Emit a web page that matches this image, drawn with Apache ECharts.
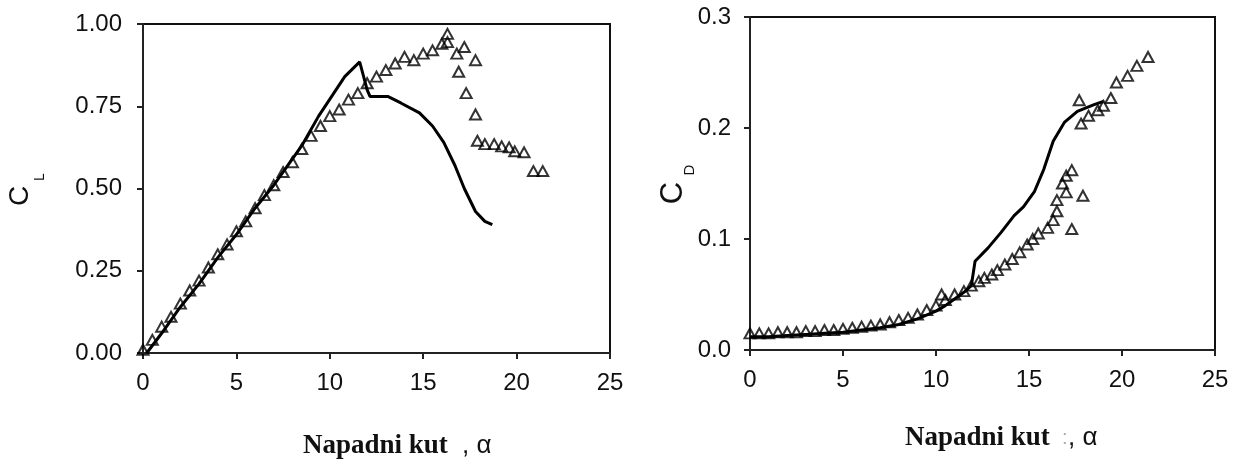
<!DOCTYPE html>
<html>
<head>
<meta charset="utf-8">
<script src="https://cdn.jsdelivr.net/npm/echarts@6/dist/echarts.min.js"></script>
<style>
html,body{margin:0;padding:0;background:#fff;}
#c{width:1243px;height:468px;}
</style>
</head>
<body>
<div id="c"></div>
<script>
// ---- data (angle of attack alpha, coefficient) ----
const alphaTicks = [0, 5, 10, 15, 20, 25];
const clTicks = [0, 0.25, 0.5, 0.75, 1.0];
const cdTicks = [0, 0.1, 0.2, 0.3];

const clExperiment = [
  [0.0,0.01],[0.5,0.04],[1.0,0.08],[1.5,0.11],[2.0,0.15],[2.5,0.19],[3.0,0.22],[3.5,0.26],
  [4.0,0.30],[4.5,0.33],[5.0,0.37],[5.5,0.40],[6.0,0.44],[6.5,0.48],[7.0,0.51],[7.5,0.55],
  [8.0,0.58],[8.5,0.62],[9.0,0.66],[9.5,0.69],[10.0,0.72],[10.5,0.74],[11.0,0.77],[11.5,0.79],
  [12.0,0.82],[12.5,0.84],[13.0,0.86],[13.5,0.88],[14.0,0.90],[14.5,0.89],[15.0,0.91],[15.5,0.92],
  [16.0,0.94],[16.3,0.97],[16.3,0.945],[16.8,0.91],[17.2,0.93],[17.8,0.89],[16.9,0.855],[17.3,0.79],
  [17.8,0.725],[17.9,0.645],[18.3,0.635],[18.8,0.635],[19.2,0.628],[19.6,0.625],[19.9,0.613],
  [20.4,0.61],[20.9,0.553],[21.4,0.553]
];
const clComputed = [
  [0.2,0.0],[1,0.06],[2,0.14],[3,0.21],[4,0.29],[5,0.36],[6,0.44],[7,0.51],[8,0.59],[8.5,0.63],
  [9.4,0.72],[10.1,0.78],[10.8,0.84],[11.6,0.885],[12.0,0.80],[12.15,0.78],[13.1,0.78],[13.8,0.76],
  [14.8,0.73],[15.5,0.69],[16.1,0.64],[16.7,0.57],[17.2,0.50],[17.8,0.43],[18.3,0.40],[18.7,0.39]
];
const cdExperiment = [
  [0.0,0.015],[0.5,0.015],[1.0,0.015],[1.5,0.016],[2.0,0.016],[2.5,0.016],[3.0,0.017],[3.5,0.017],
  [4.0,0.018],[4.5,0.018],[5.0,0.019],[5.5,0.020],[6.0,0.021],[6.5,0.022],[7.0,0.023],[7.5,0.025],
  [8.0,0.027],[8.5,0.029],[9.0,0.032],[9.5,0.036],[10.0,0.040],[10.3,0.050],[10.5,0.045],[11.0,0.050],
  [11.5,0.053],[11.9,0.058],[12.3,0.062],[12.6,0.065],[13.0,0.068],[13.3,0.072],[13.7,0.077],[14.1,0.082],
  [14.5,0.088],[14.9,0.095],[15.2,0.100],[15.5,0.105],[16.0,0.110],[16.3,0.117],[16.5,0.125],[16.5,0.135],
  [16.8,0.150],[17.0,0.157],[17.3,0.162],[17.0,0.142],[17.9,0.139],[17.3,0.109],[17.7,0.225],[17.8,0.204],
  [18.2,0.211],[18.7,0.216],[19.0,0.220],[19.4,0.227],[19.7,0.241],[20.3,0.247],[20.8,0.256],[21.4,0.264]
];
const cdComputed = [
  [0,0.012],[1,0.012],[2,0.013],[3,0.014],[4,0.015],[5,0.016],[6,0.018],[7,0.020],[8,0.023],
  [9,0.028],[10,0.035],[10.5,0.040],[11,0.046],[11.5,0.052],[11.9,0.058],[12.1,0.080],[12.8,0.092],
  [13.5,0.106],[14.2,0.121],[14.7,0.129],[15.3,0.143],[15.8,0.163],[16.3,0.188],[16.9,0.205],
  [17.6,0.215],[18.5,0.221],[19.0,0.224]
];

const chart = echarts.init(document.getElementById('c'), null, {renderer: 'canvas'});
const labelFont = {fontFamily: 'Liberation Sans, Arial, sans-serif', fontSize: 24, color: '#111'};
function xAx(gi, margin) {
  return {
    type: 'value', gridIndex: gi, min: 0, max: 25, interval: 5,
    axisLine: {show: true, onZero: false, lineStyle: {color: '#222', width: 2}},
    axisTick: {show: true, inside: false, length: 6, lineStyle: {color: '#222', width: 2}},
    axisLabel: Object.assign({margin: margin, formatter: v => alphaTicks.includes(v) ? String(v) : ''}, labelFont),
    splitLine: {show: false}
  };
}
function yAx(gi, max, interval, dec, margin) {
  return {
    type: 'value', gridIndex: gi, min: 0, max: max, interval: interval,
    axisLine: {show: true, lineStyle: {color: '#222', width: 2}},
    axisTick: {show: true, inside: false, length: 6, lineStyle: {color: '#222', width: 2}},
    axisLabel: Object.assign({margin: margin, formatter: v => v.toFixed(dec)}, labelFont),
    splitLine: {show: false}
  };
}
const tri = {
  type: 'scatter', symbol: 'triangle', symbolSize: [11, 10],
  itemStyle: {color: 'rgba(255,255,255,0)', borderColor: '#000', borderWidth: 2},
  z: 3
};
const ln = {
  type: 'line', showSymbol: false, symbol: 'none', smooth: false,
  lineStyle: {color: '#000', width: 3}, z: 2
};
const titleStyle = {fontFamily: 'Liberation Serif, Times New Roman, serif', fontWeight: 'bold', fontSize: 27, fill: '#111'};
const sans = 'Liberation Sans, Arial, sans-serif';

chart.setOption({
  backgroundColor: '#fff',
  animation: false,
  grid: [
    {left: 143, top: 24, width: 467, height: 329, show: true, borderColor: '#111', borderWidth: 2, backgroundColor: 'transparent'},
    {left: 750, top: 17, width: 465, height: 333, show: true, borderColor: '#111', borderWidth: 2, backgroundColor: 'transparent'}
  ],
  xAxis: [xAx(0, 18), xAx(1, 18)],
  yAxis: [yAx(0, 1, 0.25, 2, 21), yAx(1, 0.3, 0.1, 1, 19)],
  series: [
    Object.assign({}, ln, {xAxisIndex: 0, yAxisIndex: 0, data: clComputed}),
    Object.assign({}, tri, {xAxisIndex: 0, yAxisIndex: 0, data: clExperiment}),
    Object.assign({}, ln, {xAxisIndex: 1, yAxisIndex: 1, data: cdComputed}),
    Object.assign({}, tri, {xAxisIndex: 1, yAxisIndex: 1, data: cdExperiment})
  ],
  graphic: [
    {type: 'text', x: 20, y: 196, rotation: Math.PI / 2, style: {text: 'C', fontFamily: sans, fontSize: 28, fill: '#111', align: 'center', verticalAlign: 'middle'}},
    {type: 'text', x: 40, y: 177, rotation: Math.PI / 2, style: {text: 'L', fontFamily: sans, fontSize: 14, fill: '#111', align: 'center', verticalAlign: 'middle'}},
    {type: 'text', x: 673, y: 193, rotation: Math.PI / 2, style: {text: 'C', fontFamily: sans, fontSize: 31, fill: '#111', align: 'center', verticalAlign: 'middle'}},
    {type: 'text', x: 690, y: 170, rotation: Math.PI / 2, style: {text: 'D', fontFamily: sans, fontSize: 15, fill: '#111', align: 'center', verticalAlign: 'middle'}},
    {type: 'text', x: 303, y: 446, style: Object.assign({text: 'Napadni kut', align: 'left', verticalAlign: 'middle'}, titleStyle)},
    {type: 'text', x: 462, y: 446, style: {text: ', α', fontFamily: sans, fontSize: 26, fill: '#111', align: 'left', verticalAlign: 'middle'}},
    {type: 'text', x: 905, y: 438, style: Object.assign({text: 'Napadni kut', align: 'left', verticalAlign: 'middle'}, titleStyle)},
    {type: 'text', x: 1062, y: 438, style: {text: ':', fontFamily: sans, fontSize: 20, fill: '#aaa', align: 'left', verticalAlign: 'middle'}},
    {type: 'text', x: 1068, y: 438, style: {text: ', α', fontFamily: sans, fontSize: 26, fill: '#111', align: 'left', verticalAlign: 'middle'}}
  ]
});
</script>
</body>
</html>
